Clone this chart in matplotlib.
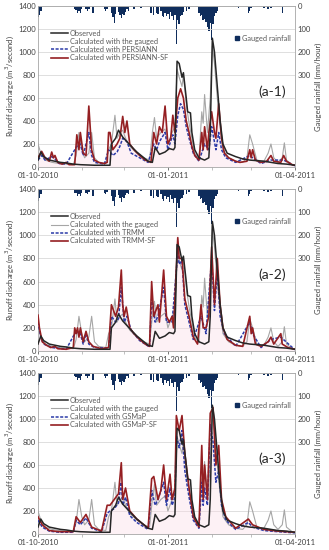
import numpy as np
import matplotlib
matplotlib.use('Agg')
import matplotlib.pyplot as plt
from matplotlib.lines import Line2D

plt.rcParams['font.family'] = ['Lato', 'DejaVu Sans']

# days counted from 01-10-2010
obs_day = [0, 2, 4, 8, 12, 16, 20, 25, 30, 40, 51, 52, 55, 57, 60, 63, 66, 70, 74, 78, 81, 83, 86,
           90, 93, 96, 97, 98.5, 100, 102, 103, 105, 106, 108, 109, 111, 114, 118, 121, 122, 123.5,
           125, 127, 129, 131, 134, 140, 145, 150, 155, 160, 165, 170, 176, 182]
obs_q = [60, 130, 90, 60, 50, 40, 35, 25, 20, 15, 15, 200, 250, 320, 260, 220, 180, 130, 90, 50, 40,
         170, 110, 130, 160, 150, 170, 920, 900, 780, 820, 600, 480, 470, 300, 150, 80, 60, 80, 300,
         1120, 1000, 700, 400, 200, 120, 90, 70, 60, 55, 50, 40, 30, 25, 15]

gauge_day = [0, 2, 5, 10, 15, 20, 25, 27, 29, 31, 33, 36, 38, 40, 43, 48, 50, 52, 54.5, 56, 58, 60,
             62, 65, 70, 75, 79, 81, 82.5, 84, 87, 90, 92, 95, 97, 98.5, 100, 102, 103, 105, 107,
             109, 111, 114, 116, 117, 118, 120, 122, 123.5, 125, 127, 129, 131, 135, 140, 145, 148,
             150, 152, 155, 160, 163, 165, 167, 170, 173, 174.5, 176, 180, 182]
gauge_q = [200, 120, 60, 40, 30, 25, 20, 100, 300, 150, 80, 120, 300, 80, 40, 30, 150, 200, 450, 250,
           300, 320, 250, 180, 120, 80, 60, 300, 430, 250, 300, 330, 200, 300, 350, 850, 780, 700,
           800, 550, 380, 250, 120, 70, 480, 380, 630, 300, 600, 1050, 900, 600, 350, 150, 80, 50,
           40, 80, 280, 200, 60, 50, 120, 200, 80, 40, 80, 210, 60, 20, 15]

# panel 1: PERSIANN
p1_sat_day = [0, 2.6, 5, 9.7, 12, 15, 20, 27.5, 30, 32, 36, 38, 40, 47, 50, 53, 56, 58, 60, 63, 66,
              72, 78, 82, 84, 86, 90, 92, 95.5, 97, 99, 101, 103, 105, 107, 110, 114, 118, 121, 123,
              126, 128, 130, 133, 140, 150, 152, 158, 165, 174, 182]
p1_sat_q = [60, 100, 60, 90, 70, 30, 25, 180, 200, 100, 300, 100, 40, 25, 150, 100, 130, 180, 250,
            220, 120, 80, 40, 200, 150, 220, 300, 150, 280, 200, 450, 550, 500, 350, 250, 120, 50,
            200, 150, 350, 150, 300, 150, 80, 40, 100, 80, 30, 60, 60, 10]
p1_sf_day = [0, 2.6, 5, 8, 9.7, 11, 12, 14, 17, 20, 22, 26, 27.5, 29, 30, 32, 34, 36, 38, 40, 43, 47,
             49, 50, 51, 53, 56, 58, 60, 61.5, 63, 65, 68, 72, 76, 80, 82, 84, 86, 88, 90, 92, 94,
             95.5, 97, 99, 101, 103, 105, 107, 109, 111, 114, 116, 117, 118, 120, 121, 123, 125,
             126, 128, 130, 132, 135, 140, 143, 148, 150, 151, 152, 154, 158, 162, 165, 167, 172,
             174, 176, 180, 182]
p1_sf_q = [80, 136, 80, 50, 130, 80, 100, 40, 25, 40, 20, 20, 280, 150, 300, 120, 100, 530, 150, 60,
           40, 30, 40, 300, 300, 150, 200, 250, 440, 300, 400, 200, 150, 100, 60, 40, 300, 200, 350,
           300, 530, 200, 250, 450, 300, 600, 680, 600, 400, 300, 180, 100, 60, 300, 150, 350, 150,
           300, 480, 300, 250, 550, 250, 120, 80, 50, 40, 50, 150, 80, 150, 60, 40, 50, 100, 50, 40,
           100, 50, 20, 15]

# panel 2: TRMM
p2_sat_day = [0, 2, 4, 10, 20, 26, 28, 30, 32, 34, 36, 40, 50, 52, 55, 57, 59, 61, 63, 66, 72, 79,
              80.5, 83, 85, 89, 91, 95, 99, 100, 102, 104, 107, 110, 115.5, 119, 123, 125, 127, 129,
              132, 140, 150, 152, 158, 165, 172, 182]
p2_sat_q = [250, 120, 60, 30, 15, 150, 160, 150, 60, 150, 60, 30, 25, 300, 250, 280, 550, 250, 300,
            180, 90, 35, 450, 250, 300, 550, 250, 250, 850, 750, 780, 400, 250, 100, 300, 150, 800,
            350, 700, 300, 150, 40, 250, 150, 30, 100, 120, 10]
p2_sf_day = [0, 1, 3, 6, 9, 12, 14, 20, 25, 26, 27, 28, 29, 30, 32, 34, 36, 39, 45, 50, 52, 53.5, 55,
             57, 59, 60, 61, 62.5, 65, 68, 72, 76, 79, 80.5, 82, 85, 86, 89, 91, 93, 95, 96, 99, 100,
             102, 104, 107, 110, 113, 115.5, 117, 119, 121, 123, 125, 127, 129, 131, 134, 140, 145,
             150, 151, 152, 154, 158, 163, 165, 167, 172, 173, 177, 182]
p2_sf_q = [310, 200, 80, 50, 30, 40, 20, 15, 30, 200, 150, 200, 120, 200, 80, 170, 80, 40, 20, 30,
           400, 350, 300, 380, 700, 400, 300, 380, 200, 150, 100, 60, 40, 600, 300, 400, 250, 700,
           300, 250, 300, 200, 980, 800, 800, 450, 300, 120, 60, 400, 200, 200, 300, 900, 400, 800,
           400, 200, 100, 50, 40, 300, 150, 200, 60, 40, 80, 120, 60, 150, 60, 30, 15]

# panel 3: GSMaP
p3_sat_day = [0, 3, 8, 15, 25, 27, 30, 34, 38, 45, 49, 51, 54, 57, 59, 60, 62, 65, 70, 78, 80.5, 83,
              85, 89, 91, 93.5, 95, 97, 98, 100, 102, 104, 107, 110, 114, 116, 117, 118, 120, 122,
              124, 126, 128, 130, 133, 140, 149, 152, 160, 170, 182]
p3_sat_q = [120, 60, 25, 15, 15, 120, 80, 140, 50, 20, 180, 200, 220, 270, 450, 250, 320, 160, 100,
            40, 380, 250, 300, 450, 250, 400, 250, 320, 850, 750, 900, 550, 320, 120, 50, 450, 250,
            400, 250, 950, 800, 450, 550, 250, 120, 40, 100, 60, 30, 20, 10]
p3_sf_day = [0, 3, 8, 15, 25, 27, 30, 34, 38, 45, 49, 51, 54, 57, 59, 60, 62, 65, 70, 78, 80.5, 82,
             85, 87, 89, 91, 93.5, 95, 97, 98, 100, 102, 104, 107, 110, 114, 116, 117, 118, 120,
             122, 124, 126, 128, 130, 133, 140, 149, 152, 160, 170, 182]
p3_sf_q = [150, 80, 30, 20, 20, 150, 100, 170, 60, 25, 250, 250, 300, 350, 620, 300, 400, 200, 130,
           50, 480, 500, 300, 380, 600, 300, 520, 300, 400, 1030, 900, 1030, 700, 400, 150, 60, 770,
           300, 600, 300, 1050, 1100, 600, 770, 300, 150, 50, 130, 80, 40, 25, 15]

rain_day = [0, 1, 2, 26, 27, 28, 29, 30, 31, 34, 35, 36, 39, 47, 48, 49, 52, 53, 54, 55, 57, 58, 59,
            60, 61, 62, 63, 64, 68, 73, 80, 82, 84, 85, 87, 88, 89, 90, 91, 92, 93, 94, 95, 96, 97,
            98, 99, 100, 101, 102, 103, 105, 107, 114, 115, 116, 117, 118, 119, 120, 121, 122, 123,
            124, 125, 126, 127, 142, 149, 150, 151, 160, 163, 165, 173]
rain_mm = [50, 40, 20, 15, 18, 30, 22, 30, 15, 15, 20, 12, 30, 15, 20, 12, 30, 50, 75, 35, 25, 40,
           54, 35, 40, 25, 15, 20, 15, 10, 30, 40, 30, 35, 20, 45, 50, 30, 45, 35, 55, 25, 45, 60,
           40, 165, 60, 80, 45, 40, 25, 20, 12, 30, 45, 40, 60, 55, 70, 90, 110, 75, 150, 80, 45,
           30, 20, 10, 30, 20, 10, 10, 12, 10, 30]

panels = [
    ('(a-1)', 'PERSIANN', p1_sat_day, p1_sat_q, p1_sf_day, p1_sf_q),
    ('(a-2)', 'TRMM', p2_sat_day, p2_sat_q, p2_sf_day, p2_sf_q),
    ('(a-3)', 'GSMaP', p3_sat_day, p3_sat_q, p3_sf_day, p3_sf_q),
]

TXT = '#404040'
GRID = '#d9d9d9'

fig = plt.figure(figsize=(3.29, 5.5), dpi=100)
boxes = [(0.1155, 0.6964, 0.781, 0.2927),
         (0.1155, 0.3618, 0.781, 0.2945),
         (0.1155, 0.0291, 0.781, 0.2927)]

for box, (tag, name, sd, sq, fd, fq) in zip(boxes, panels):
    ax = fig.add_axes(box)
    ax.fill_between(fd, 0, fq, color='#fcdce6', alpha=0.4, lw=0, zorder=1)
    ax.plot(obs_day, obs_q, color='#262626', lw=1.1, zorder=5, label='Observed')
    ax.plot(gauge_day, gauge_q, color='#a6a6a6', lw=0.8, zorder=3, label='Calculated with the gauged')
    ax.plot(sd, sq, color='#2b3aa8', lw=1.1, ls=(0, (2, 1)), zorder=4, label='Calculated with ' + name)
    ax.plot(fd, fq, color='#951f22', lw=1.2, zorder=4, label='Calculated with ' + name + '-SF')

    ax.set_xlim(0, 182)
    ax.set_ylim(0, 1400)
    ax.set_yticks(range(0, 1401, 200))
    ax.yaxis.grid(True, color=GRID, lw=0.6)
    ax.set_axisbelow(True)
    ax.set_xticks([0, 92, 182])
    ax.set_xticklabels(['01-10-2010', '01-01-2011', '01-04-2011'])
    ax.set_xticks([31, 61, 123, 151], minor=True)
    ax.tick_params(axis='both', labelsize=5.5, colors=TXT, length=2, width=0.5, pad=1.5)
    ax.tick_params(axis='x', which='minor', length=2, width=0.5, color='#a6a6a6')
    ax.tick_params(axis='y', length=0)
    for s in ax.spines.values():
        s.set_color('#a6a6a6')
        s.set_linewidth(0.6)
    ax.set_ylabel('Runoff discharge (m$^3$/second)', fontsize=5.5, color=TXT, labelpad=2)

    leg = ax.legend(loc='upper left', bbox_to_anchor=(0.04, 0.87), frameon=False, fontsize=5.3,
                    handlelength=2.3, handletextpad=0.2, labelspacing=0.15, borderaxespad=0)
    for t in leg.get_texts():
        t.set_color('#595959')

    ax.text(0.91, 0.47, tag, transform=ax.transAxes, fontsize=10, ha='center', va='center',
            color='#262626')

    ax2 = ax.twinx()
    ax2.bar(rain_day, rain_mm, width=1.0, color='#0f2d5c', align='center', zorder=2)
    ax2.set_ylim(700, 0)
    ax2.set_yticks([0, 100, 200, 300])
    ax2.tick_params(axis='y', labelsize=5.5, colors=TXT, length=0, pad=2)
    for s in ax2.spines.values():
        s.set_visible(False)
    ax2.set_ylabel('Gauged rainfall (mm/hour)', fontsize=5.5, color=TXT, labelpad=3)
    h = Line2D([], [], ls='none', marker='s', ms=3.5, color='#0f2d5c')
    leg2 = ax2.legend([h], ['Gauged rainfall'], loc='upper right', bbox_to_anchor=(0.995, 0.84),
                      frameon=False, fontsize=5.3, handlelength=0.8, handletextpad=0.3,
                      borderaxespad=0)
    for t in leg2.get_texts():
        t.set_color('#595959')
    ax.set_zorder(ax2.get_zorder() + 1)
    ax.patch.set_visible(False)

fig.savefig('out.png', dpi=100)
